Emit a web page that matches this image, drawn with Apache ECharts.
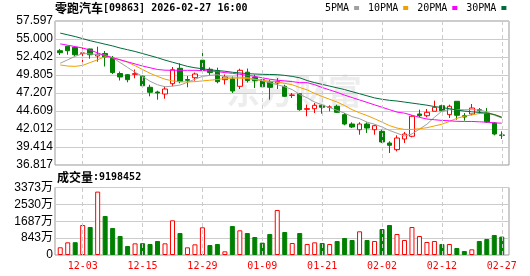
<!DOCTYPE html>
<html><head><meta charset="utf-8">
<script src="https://cdn.jsdelivr.net/npm/echarts@6/dist/echarts.min.js"></script>
<style>html,body{margin:0;padding:0;background:#fff}#c{width:530px;height:276px}</style>
</head><body><div id="c"></div>
<script>
const stockName = '零跑汽车';
const stockCode = '[09863]';
const stamp = '2026-02-27 16:00';
const dates = ['11-28','12-01','12-02','12-03','12-04','12-05','12-08','12-09','12-10','12-11',
 '12-12','12-15','12-16','12-17','12-18','12-19','12-22','12-23','12-24','12-29',
 '12-30','12-31','01-02','01-05','01-06','01-07','01-08','01-09','01-12','01-13',
 '01-14','01-15','01-16','01-19','01-20','01-21','01-22','01-23','01-26','01-27',
 '01-28','01-29','01-30','02-02','02-03','02-04','02-05','02-06','02-09','02-10',
 '02-11','02-12','02-13','02-16','02-20','02-23','02-24','02-25','02-26','02-27'];
const dateLabels = ['12-03','12-15','12-29','01-09','01-21','02-02','02-12','02-27'];
const opens = [53.31,53.95,53.80,52.90,53.56,52.55,52.91,52.21,50.02,49.85,
 49.90,49.63,48.03,47.35,47.06,48.55,50.77,49.15,49.41,51.94,
 50.63,50.42,49.13,49.23,48.17,50.21,49.47,49.13,48.80,48.65,
 48.17,46.86,47.11,44.85,44.94,45.43,45.14,45.29,44.08,42.73,
 41.91,42.73,41.91,41.68,39.99,39.03,40.57,40.96,44.18,43.93,
 44.57,45.37,44.08,46.01,43.93,44.18,44.80,44.32,42.88,41.15];
const closes = [53.02,53.31,52.73,53.00,52.73,52.80,52.40,50.16,49.52,49.13,
 50.00,48.25,47.31,47.21,47.78,50.57,48.84,49.04,49.95,50.43,
 50.16,48.84,49.52,47.50,50.48,49.01,48.98,48.10,48.02,48.87,
 46.73,46.92,44.80,44.95,45.43,45.14,45.20,44.42,42.73,42.30,
 42.73,42.15,42.49,40.14,39.66,40.71,41.29,43.85,43.93,44.42,
 45.14,44.65,45.29,43.99,43.74,45.04,44.65,43.02,41.29,41.10];
const highs = [53.56,54.00,53.85,53.74,53.60,53.89,53.27,52.55,50.31,49.95,
 50.60,49.73,48.40,47.54,48.17,50.96,51.49,49.66,50.16,53.56,
 50.89,50.86,49.88,49.59,50.71,50.74,49.85,49.47,49.13,49.37,
 48.40,47.21,47.21,45.52,45.76,45.62,45.43,45.52,44.32,42.98,
 42.98,42.98,42.63,41.91,40.24,41.10,41.58,43.99,44.80,44.90,
 46.10,45.52,45.52,46.01,44.32,45.62,45.04,45.04,43.02,41.68];
const lows = [52.69,52.73,52.55,51.64,52.16,51.72,51.03,49.95,49.01,48.75,
 49.33,48.03,46.73,46.24,46.38,48.17,48.61,48.03,48.98,50.28,
 49.73,48.61,48.43,47.21,47.78,48.72,47.93,47.93,46.24,47.78,
 46.63,46.49,44.65,43.85,44.32,44.22,44.57,44.32,42.55,42.15,
 41.19,41.44,41.19,39.99,38.55,38.79,39.99,40.81,43.70,43.70,
 44.57,44.57,43.60,43.35,43.21,43.99,44.18,42.88,41.10,40.57];
const prevClose0 = 52.90;
const volumes = [3850000,6330000,6400000,15000000,14000000,31670000,19500000,13500000,9500000,4500000,
 5830000,5900000,5500000,7000000,5830000,17330000,11000000,3830000,5330000,13830000,
 5000000,5500000,1830000,14500000,12330000,11000000,9000000,6170000,10500000,22500000,
 11500000,6000000,11000000,5500000,6330000,6000000,5500000,7000000,8500000,7500000,
 11830000,7500000,7000000,13000000,15000000,10500000,7500000,14000000,9500000,6500000,
 7000000,5500000,5500000,3500000,2000000,2830000,7000000,8000000,10000000,9198452];
const ma5 = [51.5,52.0,52.5,52.9,52.85,52.75,52.7,52.3,51.6,50.9,
 50.2,49.6,48.9,48.4,48.1,48.2,48.35,48.75,49.2,49.6,
 49.75,49.85,49.55,49.5,49.5,49.45,49.2,48.95,48.7,48.4,
 48.1,47.7,47.0,46.5,45.9,45.5,45.1,44.7,44.3,43.8,
 43.5,43.0,42.7,42.3,41.8,41.4,41.0,41.3,42.0,42.7,
 43.7,44.6,44.8,44.8,44.8,44.8,44.75,44.5,44.0,43.6];
const ma10 = [51.25,51.1,51.05,51.2,51.6,52.0,52.45,52.3,52.0,51.65,
 51.15,50.6,50.05,49.6,49.2,48.95,48.85,48.8,48.85,48.95,
 49.05,49.15,49.3,49.35,49.35,49.3,49.15,49.05,48.9,48.8,
 48.6,48.4,48.0,47.65,47.15,46.7,46.3,45.9,45.4,44.8,
 44.35,43.95,43.5,43.0,42.5,42.15,41.95,41.95,42.05,42.2,
 42.45,42.7,43.1,43.55,43.85,44.05,44.25,44.3,44.1,43.75];
const ma20 = [54.3,54.1,53.9,53.7,53.4,53.0,52.6,52.3,52.0,51.7,
 51.4,51.1,50.85,50.6,50.5,50.48,50.48,50.48,50.48,50.45,
 50.4,50.3,50.15,50.05,49.9,49.75,49.6,49.4,49.2,49.05,
 48.95,48.85,48.7,48.7,48.4,48.0,47.65,47.3,46.9,46.55,
 46.2,45.85,45.5,45.15,44.8,44.45,44.3,44.0,43.7,43.45,
 43.35,43.25,43.2,43.12,43.1,43.1,43.05,43.0,42.9,42.85];
const ma30 = [55.85,55.6,55.35,55.05,54.75,54.5,54.25,54.0,53.7,53.45,
 53.2,52.9,52.6,52.3,51.95,51.65,51.35,51.05,50.85,50.7,
 50.55,50.45,50.35,50.2,50.1,50.0,49.95,49.9,49.88,49.85,
 49.75,49.6,49.4,49.0,48.7,48.45,48.2,47.95,47.7,47.4,
 47.1,46.8,46.5,46.3,46.15,46.05,45.9,45.75,45.6,45.45,
 45.25,45.1,44.95,44.75,44.6,44.5,44.4,44.3,44.1,43.7];
const priceTicks = ['36.817','39.414','42.012','44.609','47.207','49.805','52.402','55.000','57.597'];
const priceMin = 36.817, priceMax = 57.597;
const volTicks = ['0','843万','1687万','2530万','3373万'];
const volMax = 33730000;
const maNames = ['5PMA','10PMA','20PMA','30PMA'];

const chart = echarts.init(document.getElementById('c'));
const priceStep = (priceMax - priceMin) / (priceTicks.length - 1);
const volStep = volMax / (volTicks.length - 1);
const RED = '#ff0000', GREEN = '#008000';
const candleData = dates.map((d, i) => [opens[i], closes[i], lows[i], highs[i]]);
const volData = volumes.map((v, i) => {
  const prev = i === 0 ? prevClose0 : closes[i - 1];
  const up = closes[i] >= prev;
  return {value: v, itemStyle: up ? {color: '#ffffff', borderColor: RED, borderWidth: 1}
                                   : {color: GREEN, borderColor: GREEN, borderWidth: 1}};
});
const vLines = () => ({
  silent: true, symbol: ['none', 'none'], label: {show: false}, animation: false,
  lineStyle: {type: [4, 3], color: '#cccccc', width: 1},
  emphasis: {disabled: true},
  data: dateLabels.map(d => ({xAxis: d}))
});
const labelFont = {fontFamily: '"Liberation Sans", "Noto Sans CJK SC"', fontSize: 12, color: '#000'};
const maColors = ['#a0a0a0', '#f0a000', '#ff00ff', '#006b3c'];
const maData = [ma5, ma10, ma20, ma30];

chart.setOption({
  animation: false,
  backgroundColor: '#ffffff',
  title: [
    {left: 55, top: 2, padding: 0,
     text: '{a|' + stockName + '}{b|' + stockCode + ' ' + stamp + '}',
     textStyle: {rich: {a: {fontFamily: '"Noto Sans CJK SC"', fontSize: 12, color: '#000'},
                        b: {fontFamily: '"DejaVu Sans Mono"', fontSize: 10, color: '#000'}}}},
    {left: 57, top: 171, padding: 0,
     text: '{a|成交量}{b|:' + volumes[volumes.length - 1] + '}',
     textStyle: {rich: {a: {fontFamily: '"Noto Sans CJK SC"', fontSize: 12, color: '#000'},
                        b: {fontFamily: '"DejaVu Sans Mono"', fontSize: 10, color: '#000'}}}}
  ],
  legend: {
    data: maNames, left: 325, top: 3, padding: 0, align: 'right', icon: 'rect',
    itemWidth: 5, itemHeight: 4, itemGap: 9, selectedMode: false,
    textStyle: {fontFamily: '"DejaVu Sans Mono"', fontSize: 10, color: '#000', padding: 0}
  },
  graphic: [{type: 'text', left: 226, top: 74, silent: true, z: 0,
    style: {text: '东方财富', font: 'bold 34px "Noto Sans CJK SC"', fill: 'rgba(0,0,0,0.07)'}}],
  grid: [
    {left: 55, right: 21, top: 21, height: 144, show: true, borderColor: '#999', borderWidth: 1},
    {left: 56.5, width: 449, top: 21, height: 144},
    {left: 55, right: 21, top: 187.5, height: 67.5, show: true, borderColor: '#999', borderWidth: 1},
    {left: 56.5, width: 449, top: 187.5, height: 67.5}
  ],
  xAxis: [
    {gridIndex: 0, type: 'value', min: 0, max: 1, show: false},
    {gridIndex: 1, type: 'category', data: dates, boundaryGap: true,
     axisLine: {show: false}, axisTick: {show: false}, axisLabel: {show: false}, splitLine: {show: false}},
    {gridIndex: 2, type: 'value', min: 0, max: 1, show: false},
    {gridIndex: 3, type: 'category', data: dates, boundaryGap: true,
     axisLine: {show: false}, axisTick: {show: false}, splitLine: {show: false},
     axisLabel: {interval: (i, v) => dateLabels.includes(v), color: RED,
                 fontFamily: '"DejaVu Sans Mono"', fontSize: 10, margin: 6}}
  ],
  yAxis: [
    {gridIndex: 0, type: 'value', min: priceMin, max: priceMax, interval: priceStep,
     axisLine: {show: false}, axisTick: {show: false},
     splitLine: {lineStyle: {color: '#cccccc', width: 1}},
     axisLabel: Object.assign({margin: 2, formatter: v => priceTicks[Math.round((v - priceMin) / priceStep)]}, labelFont)},
    {gridIndex: 1, type: 'value', min: priceMin, max: priceMax, show: false},
    {gridIndex: 2, type: 'value', min: 0, max: volMax, interval: volStep,
     axisLine: {show: false}, axisTick: {show: false},
     splitLine: {lineStyle: {color: '#cccccc', width: 1}},
     axisLabel: Object.assign({margin: 2, formatter: v => volTicks[Math.round(v / volStep)]}, labelFont)},
    {gridIndex: 3, type: 'value', min: 0, max: volMax, show: false}
  ],
  series: [
    {type: 'candlestick', name: 'K', xAxisIndex: 1, yAxisIndex: 1, data: candleData, barWidth: 5,
     itemStyle: {color: '#ffffff', color0: GREEN, borderColor: RED, borderColor0: GREEN, borderWidth: 1},
     markLine: vLines()},
    ...maNames.map((n, k) => ({
      type: 'line', name: n, xAxisIndex: 1, yAxisIndex: 1, data: maData[k], showSymbol: false,
      symbol: 'none', lineStyle: {width: 1, color: maColors[k]}, itemStyle: {color: maColors[k]}, z: 3
    })),
    {type: 'bar', name: 'VOL', xAxisIndex: 3, yAxisIndex: 3, data: volData, barWidth: 5, markLine: vLines()}
  ]
});
</script></body></html>
